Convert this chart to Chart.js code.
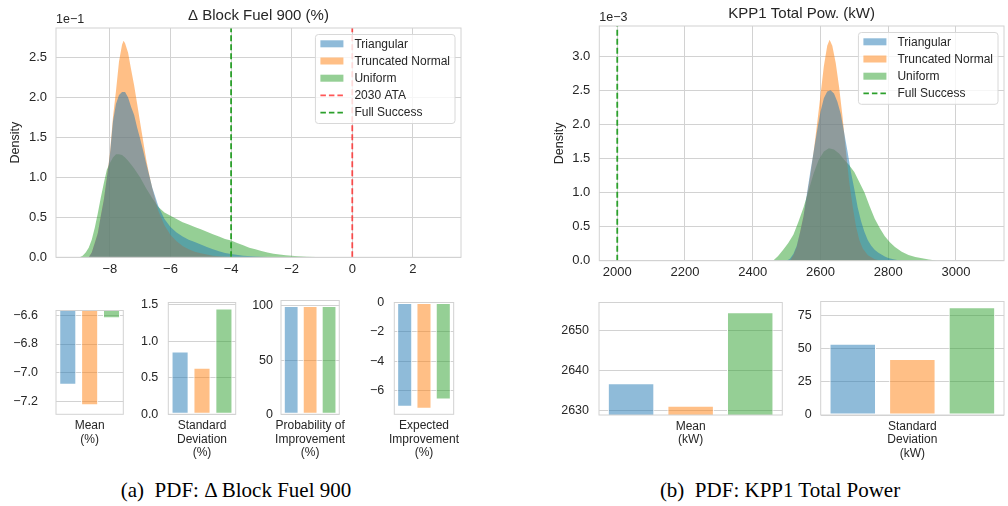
<!DOCTYPE html>
<html>
<head>
<meta charset="utf-8">
<script src="https://cdn.jsdelivr.net/npm/chart.js@4.4.1/dist/chart.umd.min.js"></script>
<style>
  html, body { margin: 0; padding: 0; background: #fff; }
  body { width: 1008px; height: 506px; position: relative; overflow: hidden; }
  canvas { position: absolute; }
  .cap { position: absolute; top: 478px; font-family: "Liberation Serif", "Times New Roman", serif; font-size: 21px; line-height: 24px; color: #000; white-space: pre; transform: translateX(-50%); }
</style>
</head>
<body>
<canvas id="pdfFuel"></canvas>
<canvas id="pdfPow"></canvas>
<canvas id="fuelMean"></canvas>
<canvas id="fuelStd"></canvas>
<canvas id="fuelPoi"></canvas>
<canvas id="fuelEi"></canvas>
<canvas id="powMean"></canvas>
<canvas id="powStd"></canvas>
<div class="cap" style="left:236px">(a)  PDF: &Delta; Block Fuel 900</div>
<div class="cap" style="left:780px">(b)  PDF: KPP1 Total Power</div>
<script>
// ---- data ----
var distLabels = ['Triangular', 'Truncated Normal', 'Uniform'];

// (a) delta block fuel 900 (%), density in units of 1e-1
var fuelTriX = [-8.7, -8.6, -8.5, -8.4, -8.3, -8.2, -8.1, -8.0, -7.9, -7.8, -7.7, -7.6, -7.5, -7.4, -7.3, -7.2, -7.1, -7.0, -6.9, -6.8, -6.7, -6.6,
                -6.4, -6.2, -6.0, -5.8, -5.6, -5.4, -5.2, -5.0, -4.8, -4.6, -4.4, -4.2, -4.0, -3.6, -3.2, -2.8, -2.4];
var fuelTriY = [0, 0.06, 0.18, 0.3, 0.52, 0.72, 1.0, 1.28, 1.7, 1.92, 2.03, 2.07, 2.07, 2.0, 1.88, 1.78, 1.62, 1.48, 1.33, 1.17, 1.02, 0.87,
                0.64, 0.48, 0.38, 0.31, 0.26, 0.22, 0.19, 0.16, 0.13, 0.1, 0.075, 0.055, 0.04, 0.02, 0.009, 0.003, 0];
var fuelTnX = [-8.7, -8.6, -8.5, -8.4, -8.3, -8.2, -8.1, -8.0, -7.9, -7.8, -7.7, -7.6, -7.55, -7.5, -7.4, -7.3, -7.2, -7.1, -7.0, -6.9, -6.8, -6.7, -6.6,
               -6.4, -6.2, -6.0, -5.8, -5.6, -5.4, -5.2, -5.0, -4.6, -4.2, -3.8];
var fuelTnY = [0, 0.06, 0.18, 0.3, 0.52, 0.72, 1.0, 1.3, 1.75, 2.08, 2.45, 2.66, 2.71, 2.68, 2.56, 2.35, 2.15, 1.92, 1.68, 1.45, 1.22, 1.03, 0.86,
               0.58, 0.4, 0.28, 0.2, 0.14, 0.1, 0.07, 0.05, 0.02, 0.008, 0];
var fuelUniX = [-9.0, -8.9, -8.8, -8.7, -8.6, -8.5, -8.4, -8.3, -8.2, -8.1, -8.0, -7.9, -7.8, -7.7, -7.6, -7.5, -7.4, -7.3, -7.2,
                -7.0, -6.8, -6.6, -6.4, -6.2, -6.0, -5.8, -5.6, -5.4, -5.2, -5.0, -4.8, -4.6, -4.4, -4.2, -4.0, -3.8, -3.6, -3.4, -3.2, -3.0,
                -2.8, -2.6, -2.4, -2.2, -2.0, -1.8, -1.5, -1.2, -0.8, -0.4];
var fuelUniY = [0, 0.02, 0.06, 0.12, 0.22, 0.37, 0.55, 0.75, 0.93, 1.1, 1.18, 1.25, 1.29, 1.29, 1.28, 1.25, 1.21, 1.16, 1.11,
                1.0, 0.86, 0.74, 0.63, 0.56, 0.52, 0.48, 0.44, 0.41, 0.38, 0.35, 0.32, 0.29, 0.26, 0.23, 0.21, 0.18, 0.15, 0.12, 0.1, 0.08,
                0.06, 0.045, 0.035, 0.027, 0.02, 0.013, 0.007, 0.003, 0.001, 0];
var fuelXTicks = [-8, -6, -4, -2, 0, 2];
var fuelYTicks = [0, 0.5, 1.0, 1.5, 2.0, 2.5];
var fuelRefLabels = ['2030 ATA', 'Full Success'];
var fuelRefValues = [0, -4];

// (b) KPP1 total power (kW), density in units of 1e-3
var powTriX = [2500, 2510, 2520, 2530, 2540, 2550, 2560, 2570, 2580, 2590, 2600, 2610, 2620, 2630, 2640, 2650, 2660, 2670, 2680, 2690,
               2700, 2710, 2720, 2730, 2740, 2750, 2760, 2770, 2780, 2790, 2800, 2815, 2830, 2840];
var powTriY = [0, 0.03, 0.1, 0.22, 0.42, 0.65, 0.98, 1.3, 1.6, 1.9, 2.18, 2.38, 2.48, 2.5, 2.45, 2.33, 2.15, 1.88, 1.6, 1.3,
               1.05, 0.78, 0.58, 0.42, 0.3, 0.22, 0.16, 0.12, 0.09, 0.06, 0.04, 0.02, 0.005, 0];
var powTnX = [2510, 2520, 2530, 2540, 2550, 2560, 2570, 2580, 2590, 2600, 2610, 2620, 2627, 2635, 2645, 2655, 2665, 2675, 2685, 2695,
              2705, 2715, 2725, 2740, 2760, 2780];
var powTnY = [0, 0.08, 0.2, 0.42, 0.65, 0.95, 1.25, 1.6, 2.0, 2.42, 2.85, 3.15, 3.24, 3.15, 2.9, 2.55, 2.12, 1.62, 1.15, 0.8,
              0.5, 0.3, 0.18, 0.08, 0.02, 0];
var powUniX = [2460, 2475, 2490, 2505, 2520, 2535, 2550, 2565, 2580, 2595, 2610, 2625, 2640, 2655, 2670, 2685, 2700, 2715, 2730, 2745,
               2760, 2775, 2790, 2805, 2820, 2840, 2860, 2880, 2900, 2920, 2945];
var powUniY = [0, 0.07, 0.16, 0.26, 0.38, 0.57, 0.78, 1.03, 1.28, 1.48, 1.6, 1.65, 1.63, 1.57, 1.48, 1.4, 1.3, 1.15, 1.0, 0.8,
               0.62, 0.48, 0.36, 0.27, 0.2, 0.13, 0.085, 0.055, 0.035, 0.018, 0];
var powXTicks = [2000, 2200, 2400, 2600, 2800, 3000];
var powYTicks = [0, 0.5, 1.0, 1.5, 2.0, 2.5, 3.0];
var powRefLabels = ['Full Success'];
var powRefValues = [2000];

// summary bars, one value per distribution
var fuelMean = [-7.085, -7.227, -6.621];
var fuelMeanTicks = [-7.2, -7.0, -6.8, -6.6];
var fuelStd = [0.857, 0.635, 1.444];
var fuelStdTicks = [0, 0.5, 1.0, 1.5];
var fuelPoi = [100, 100, 99.9];
var fuelPoiTicks = [0, 50, 100];
var fuelEi = [-7.09, -7.22, -6.6];
var fuelEiTicks = [-6, -4, -2, 0];
var powMean = [2636.9, 2631.3, 2654.5];
var powMeanTicks = [2630, 2640, 2650];
var powStd = [53.5, 42.1, 80.9];
var powStdTicks = [0, 25, 50, 75];

// ---- styles ----
var distFill = ['rgba(31,119,180,0.5)', 'rgba(255,127,14,0.5)', 'rgba(44,160,44,0.5)'];
var refColor = { '2030 ATA': 'rgba(255,30,30,0.75)', 'Full Success': '#2ca02c' };
var GRID = '#d2d2d2';
var TEXT = '#262626';
var FONT = '"Liberation Sans", Arial, Helvetica, sans-serif';

Chart.defaults.font.family = FONT;
Chart.defaults.color = TEXT;

function minus(s) { return String(s).replace('-', '\u2212'); }

function place(id, box) {
    var c = document.getElementById(id);
    c.width = box.w; c.height = box.h;
    c.style.left = box.x + 'px'; c.style.top = box.y + 'px';
    c.style.width = box.w + 'px'; c.style.height = box.h + 'px';
    return c;
}

// frame, titles, offset text and legend drawn straight on the canvas
var overlay = {
    id: 'overlay',
    afterDraw: function(chart, args, o) {
        var ctx = chart.ctx, a = chart.chartArea;
        ctx.save();
        ctx.strokeStyle = GRID;
        ctx.lineWidth = 1;
        ctx.strokeRect(a.left, a.top, a.right - a.left, a.bottom - a.top);
        ctx.fillStyle = TEXT;
        if (o.title) {
            ctx.font = '15px ' + FONT;
            ctx.textAlign = 'center'; ctx.textBaseline = 'middle';
            ctx.fillText(o.title, (a.left + a.right) / 2, a.top - 12.5);
        }
        if (o.offset) {
            ctx.font = '12.5px ' + FONT;
            ctx.textAlign = 'left'; ctx.textBaseline = 'middle';
            ctx.fillText(o.offset, a.left, a.top - 8);
        }
        if (o.ylabel) {
            ctx.save();
            ctx.font = '12.5px ' + FONT;
            ctx.translate(a.left - 40, (a.top + a.bottom) / 2);
            ctx.rotate(-Math.PI / 2);
            ctx.textAlign = 'center'; ctx.textBaseline = 'middle';
            ctx.fillText(o.ylabel, 0, 0);
            ctx.restore();
        }
        if (o.legend) {
            var items = o.legend, rowH = 17.2;
            ctx.font = '12px ' + FONT;
            var tw = 0;
            items.forEach(function(it) { tw = Math.max(tw, ctx.measureText(it.label).width); });
            var bw = 5 + 23 + 11 + tw + 5, bh = items.length * rowH + 3;
            var bx = a.right - 6 - bw, by = a.top + 6.5;
            ctx.beginPath();
            ctx.roundRect(bx, by, bw, bh, 3);
            ctx.fillStyle = 'rgba(255,255,255,0.8)';
            ctx.fill();
            ctx.strokeStyle = '#d8d8d8';
            ctx.stroke();
            items.forEach(function(it, i) {
                var cy = by + 9.3 + i * rowH;
                if (it.kind === 'patch') {
                    ctx.fillStyle = it.color;
                    ctx.fillRect(bx + 5, cy - 3.5, 23, 7);
                } else {
                    ctx.strokeStyle = it.color;
                    ctx.lineWidth = 1.6;
                    ctx.setLineDash([5.5, 3]);
                    ctx.beginPath();
                    ctx.moveTo(bx + 5, cy); ctx.lineTo(bx + 28, cy);
                    ctx.stroke();
                    ctx.setLineDash([]);
                }
                ctx.fillStyle = TEXT;
                ctx.textAlign = 'left'; ctx.textBaseline = 'middle';
                ctx.fillText(it.label, bx + 39, cy + 0.5);
            });
        }
        ctx.restore();
    }
};
Chart.register(overlay);

var baseOptions = {
    responsive: false,
    animation: false,
    events: [],
    plugins: { legend: { display: false }, tooltip: { enabled: false } }
};

function pdfChart(id, box, area, cfg) {
    var canvas = place(id, box);
    var datasets = [];
    var legend = [];
    cfg.refValues.forEach(function(v, i) {
        datasets.push({
            label: cfg.refLabels[i],
            data: [{ x: v, y: 0 }, { x: v, y: cfg.yMax }],
            borderColor: refColor[cfg.refLabels[i]],
            borderWidth: 1.8,
            borderDash: [6, 3],
            pointRadius: 0,
            fill: false
        });
    });
    cfg.series.forEach(function(s, i) {
        datasets.push({
            label: distLabels[i],
            data: s.x.map(function(x, k) { return { x: x, y: s.y[k] }; }),
            backgroundColor: distFill[i],
            borderColor: 'rgba(0,0,0,0)',
            borderWidth: 0,
            pointRadius: 0,
            tension: 0,
            fill: 'origin'
        });
        legend.push({ label: distLabels[i], kind: 'patch', color: distFill[i] });
    });
    cfg.legendRefs.forEach(function(i) {
        legend.push({ label: cfg.refLabels[i], kind: 'dash', color: refColor[cfg.refLabels[i]] });
    });

    new Chart(canvas, {
        type: 'line',
        data: { datasets: datasets },
        options: Object.assign({}, baseOptions, {
            layout: { padding: { top: area.top - box.y, right: box.x + box.w - area.right, left: 0, bottom: 0 } },
            plugins: Object.assign({}, baseOptions.plugins, {
                overlay: { title: cfg.title, offset: cfg.offset, ylabel: 'Density', legend: legend }
            }),
            scales: {
                x: {
                    type: 'linear', min: cfg.xMin, max: cfg.xMax,
                    grid: { color: GRID, drawTicks: false },
                    border: { display: false },
                    ticks: { font: { size: 13 }, padding: 4, callback: function(v) { return minus(v); } },
                    afterBuildTicks: function(s) { s.ticks = cfg.xTicks.map(function(v) { return { value: v }; }); },
                    afterFit: function(s) { s.height = box.y + box.h - area.bottom; }
                },
                y: {
                    type: 'linear', min: 0, max: cfg.yMax,
                    grid: { color: GRID, drawTicks: false },
                    border: { display: false },
                    ticks: { font: { size: 13 }, padding: 9, callback: function(v) { return v.toFixed(1); } },
                    afterBuildTicks: function(s) { s.ticks = cfg.yTicks.map(function(v) { return { value: v }; }); },
                    afterFit: function(s) { s.width = area.left - box.x; }
                }
            }
        })
    });
}

function barChart(id, box, area, cfg) {
    var canvas = place(id, box);
    new Chart(canvas, {
        type: 'bar',
        data: {
            labels: [cfg.label],
            datasets: distLabels.map(function(lab, i) {
                return {
                    label: lab,
                    data: [cfg.values[i]],
                    backgroundColor: distFill[i],
                    borderColor: '#ffffff',
                    borderWidth: 1,
                    borderSkipped: false,
                    categoryPercentage: 0.975,
                    barPercentage: 0.78,
                    clip: 0
                };
            })
        },
        options: Object.assign({}, baseOptions, {
            layout: { padding: { top: area.top - box.y, right: box.x + box.w - area.right, left: 0, bottom: 0 } },
            scales: {
                x: {
                    grid: { display: false, drawTicks: false },
                    border: { display: false },
                    ticks: { font: { size: 12, lineHeight: 1.12 }, padding: 5 },
                    afterFit: function(s) { s.height = box.y + box.h - area.bottom; }
                },
                y: {
                    type: 'linear', min: cfg.min, max: cfg.max,
                    grid: { color: GRID, drawTicks: false },
                    border: { display: false },
                    ticks: { font: { size: 12.5 }, padding: cfg.pad, callback: function(v) { return minus(v.toFixed(cfg.digits)); } },
                    afterBuildTicks: function(s) { s.ticks = cfg.ticks.map(function(v) { return { value: v }; }); },
                    afterFit: function(s) { s.width = area.left - box.x; }
                }
            }
        })
    });
}

pdfChart('pdfFuel', { x: 0, y: 0, w: 470, h: 285 }, { left: 56, right: 461, top: 28, bottom: 257.3 }, {
    title: '\u0394 Block Fuel 900 (%)', offset: '1e\u22121',
    xMin: -9.78, xMax: 3.59, yMax: 2.87, xTicks: fuelXTicks, yTicks: fuelYTicks,
    refLabels: fuelRefLabels, refValues: fuelRefValues, legendRefs: [0, 1],
    series: [{ x: fuelTriX, y: fuelTriY }, { x: fuelTnX, y: fuelTnY }, { x: fuelUniX, y: fuelUniY }]
});

pdfChart('pdfPow', { x: 500, y: 0, w: 508, h: 285 }, { left: 599.3, right: 1004, top: 26, bottom: 260.7 }, {
    title: 'KPP1 Total Pow. (kW)', offset: '1e\u22123',
    xMin: 1947, xMax: 3142, yMax: 3.44, xTicks: powXTicks, yTicks: powYTicks,
    refLabels: powRefLabels, refValues: powRefValues, legendRefs: [0],
    series: [{ x: powTriX, y: powTriY }, { x: powTnX, y: powTnY }, { x: powUniX, y: powUniY }]
});

barChart('fuelMean', { x: 0, y: 285, w: 128, h: 180 }, { left: 56, right: 123.3, top: 300.3, bottom: 414.3 },
    { label: ['Mean', '(%)'], values: fuelMean, ticks: fuelMeanTicks, min: -7.291, max: -6.566, digits: 1, pad: 18 });
barChart('fuelStd', { x: 128, y: 285, w: 112, h: 180 }, { left: 168.3, right: 235.7, top: 300.3, bottom: 414.3 },
    { label: ['Standard', 'Deviation', '(%)'], values: fuelStd, ticks: fuelStdTicks, min: 0, max: 1.527, digits: 1, pad: 10 });
barChart('fuelPoi', { x: 240, y: 285, w: 112, h: 180 }, { left: 281, right: 348.3, top: 300.3, bottom: 414.3 },
    { label: ['Probability of', 'Improvement', '(%)'], values: fuelPoi, ticks: fuelPoiTicks, min: 0, max: 105, digits: 0, pad: 8 });
barChart('fuelEi', { x: 352, y: 285, w: 115, h: 180 }, { left: 394.3, right: 461, top: 300.3, bottom: 414.3 },
    { label: ['Expected', 'Improvement', '(%)'], values: fuelEi, ticks: fuelEiTicks, min: -7.6, max: 0, digits: 0, pad: 10 });
barChart('powMean', { x: 530, y: 285, w: 256, h: 180 }, { left: 599, right: 782.3, top: 297.7, bottom: 415 },
    { label: ['Mean', '(kW)'], values: powMean, ticks: powMeanTicks, min: 2629, max: 2656.9, digits: 0, pad: 10 });
barChart('powStd', { x: 786, y: 285, w: 222, h: 180 }, { left: 820.7, right: 1004, top: 297.7, bottom: 415 },
    { label: ['Standard', 'Deviation', '(kW)'], values: powStd, ticks: powStdTicks, min: 0, max: 85.2, digits: 0, pad: 9 });
</script>
</body>
</html>
